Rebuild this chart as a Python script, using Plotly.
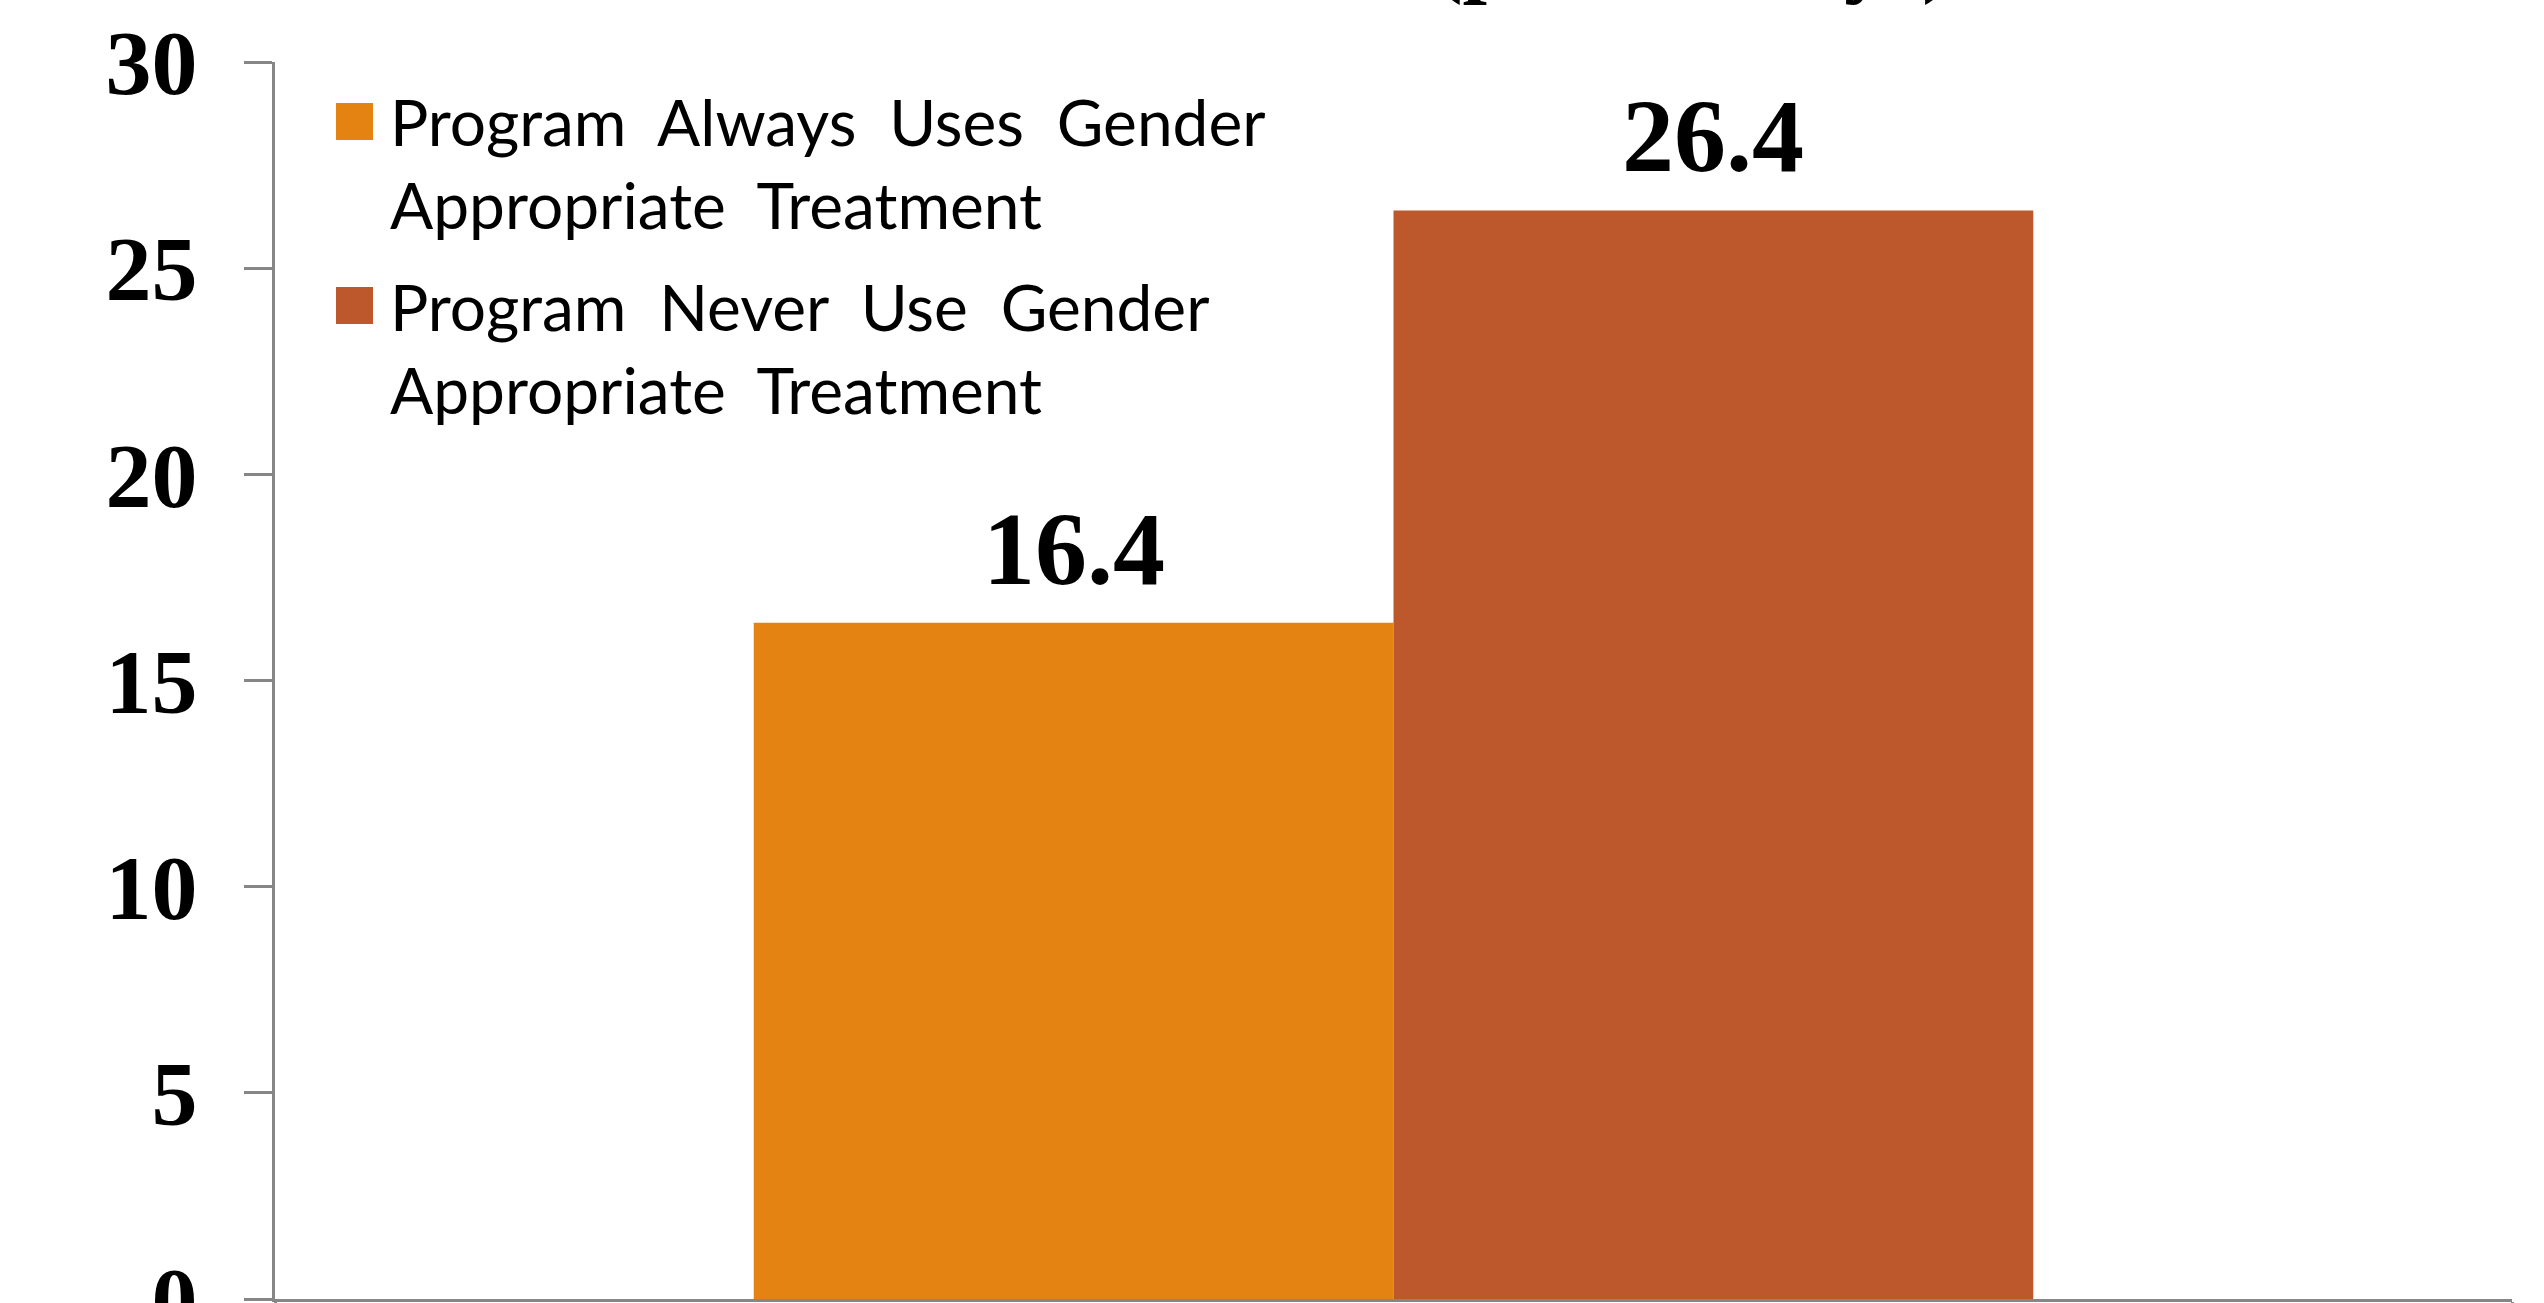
import plotly.graph_objects as go

# ---- data ----
categories = [""]
series_names = [
    "Program Always Uses Gender Appropriate Treatment",
    "Program Never Use Gender Appropriate Treatment",
]
legend_lines = [
    "Program\u00a0 Always\u00a0 Uses\u00a0 Gender<br>Appropriate\u00a0 Treatment",
    "Program\u00a0 Never\u00a0 Use\u00a0 Gender<br>Appropriate\u00a0 Treatment",
]
always_values = [16.4]
never_values = [26.4]
series_colors = ["#E48312", "#BD582C"]
y_ticks = [0, 5, 10, 15, 20, 25, 30]
title_text = "Alcohol Use (past 30 days)"

# ---- layout geometry (pixels) ----
W, H = 2544, 1303
L, R, T, B = 275, 32, 62, 4
PW, PH = W - L - R, H - T - B
BARGAP = 0.428


def px_x(px):
    return (px - L) / PW


def px_y(py):
    return (H - B - py) / PH


serif = "Liberation Serif"
sans = "Lato"
axis_color = "#868686"

fig = go.Figure()
all_series = [always_values, never_values]
n_series = len(all_series)
bar_w = (1 - BARGAP) / n_series
for k, (name, vals, col) in enumerate(zip(series_names, all_series, series_colors)):
    fig.add_trace(go.Bar(
        x=categories, y=vals, name=name,
        marker=dict(color=col, line=dict(width=0)),
        showlegend=False,
    ))
    # value labels above each bar
    for ci, v in enumerate(vals):
        xc = ci - (1 - BARGAP) / 2 + bar_w * (k + 0.5)
        fig.add_annotation(text=f"{v:.1f}", x=xc, y=v, xref="x", yref="y",
                           xanchor="center", yanchor="bottom", yshift=15,
                           showarrow=False,
                           font=dict(family=serif, size=104, color="black", weight="bold"))

# custom legend (large square swatches like the original)
sq_tops = [103, 287]
sq = 37
for i, (txt, col) in enumerate(zip(legend_lines, series_colors)):
    top = sq_tops[i]
    fig.add_shape(type="rect", xref="paper", yref="paper",
                  x0=px_x(336), x1=px_x(336 + sq),
                  y0=px_y(top + sq), y1=px_y(top),
                  fillcolor=col, line=dict(width=0), layer="above")
    center = top + sq / 2 + 42
    fig.add_annotation(text=txt, xref="paper", yref="paper",
                       x=px_x(388), y=px_y(center), xanchor="left", yanchor="middle",
                       align="left", showarrow=False,
                       font=dict(family=sans, size=64, color="black"))

# title (cut off at top of the image)
fig.add_annotation(text=title_text, xref="paper", yref="paper",
                   x=px_x(1458), y=1, xanchor="center", yanchor="bottom", yshift=55,
                   showarrow=False,
                   font=dict(family=serif, size=88, color="black", weight="bold"))

fig.update_layout(
    width=W, height=H,
    margin=dict(l=L, r=R, t=T, b=B, pad=0, autoexpand=False),
    paper_bgcolor="white", plot_bgcolor="white",
    barmode="group", bargap=BARGAP, bargroupgap=0,
    showlegend=False,
)
fig.update_yaxes(
    range=[0, 30], tickvals=y_ticks, ticktext=[str(t) for t in y_ticks],
    showgrid=False, zeroline=False, automargin=False,
    showline=True, linecolor=axis_color, linewidth=3,
    ticks="outside", ticklen=28, tickwidth=3, tickcolor=axis_color,
    ticklabelstandoff=28, ticklabeloverflow="allow",
    tickfont=dict(family=serif, size=92, color="black", weight="bold"),
)
fig.update_xaxes(
    showgrid=False, zeroline=False, showticklabels=False, automargin=False,
    showline=True, linecolor=axis_color, linewidth=3,
    ticks="outside", tickson="boundaries", ticklen=10, tickwidth=3, tickcolor=axis_color,
)

fig.write_html("out.html", config={"displayModeBar": False})
